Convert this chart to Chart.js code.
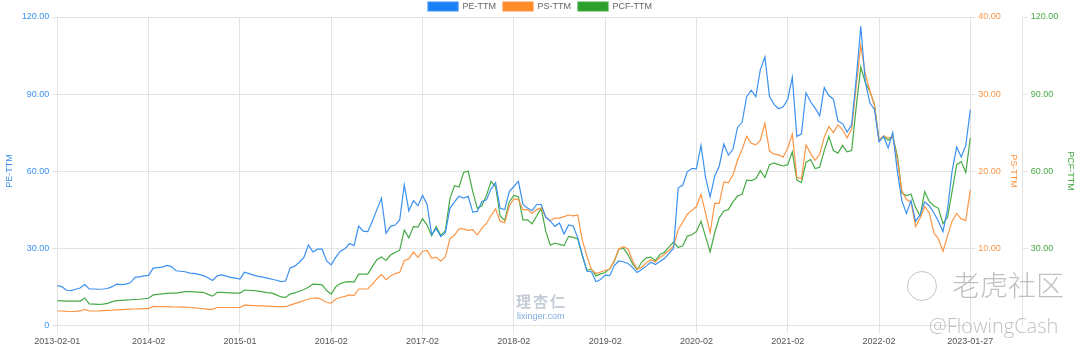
<!DOCTYPE html>
<html>
<head>
<meta charset="utf-8">
<script src="https://cdn.jsdelivr.net/npm/chart.js@4/dist/chart.umd.min.js"></script>
<style>
  html, body { margin: 0; padding: 0; background: #fff; }
  #wrap { position: relative; width: 1080px; height: 352px; overflow: hidden; }
  canvas { display: block; }
  .wm { position: absolute; pointer-events: none; white-space: nowrap; }
</style>
</head>
<body>
<div id="wrap">
  <canvas id="c" width="1080" height="352"></canvas>
  <div class="wm" style="left:516px;top:290px;font:bold 15px 'Noto Sans CJK SC';color:rgba(110,130,160,0.4);letter-spacing:2px;">理杏仁</div>
  <div class="wm" style="left:517px;top:311px;font:9px 'Liberation Sans';color:rgba(40,110,200,0.6);">lixinger.com</div>
  <div class="wm" style="left:907px;top:271px;width:28px;height:28px;border:1.5px solid rgba(150,150,150,0.55);border-radius:50%;"></div>
  <div class="wm" style="left:952px;top:264px;font:300 28px 'Noto Sans CJK SC';color:rgba(140,140,140,0.55);">老虎社区</div>
  <div class="wm" style="left:929px;top:312px;font:300 20px 'Open Sans';color:rgba(140,140,140,0.55);">@FlowingCash</div>
</div>
<script>
const tickLabels = ['2013-02-01','2014-02','2015-01','2016-02','2017-02','2018-02','2019-02','2020-02','2021-02','2022-02','2023-01-27'];
const pointsPerTick = 20;

const peTTM = [15.4,15,13.6,13.5,14,14.5,15.8,14.1,14.1,14,
14.1,14.3,15,16,15.8,16,16.5,18.6,18.8,19.2,
19.4,22.2,22.4,22.6,23.3,22.8,21.2,21,20.8,20.3,
20.2,19.8,19.3,18.5,17.4,19.2,19.6,19.1,18.6,18.3,
18,20.6,20.1,19.5,19,18.7,18.3,17.9,17.5,17,
17.2,22.3,23,24.5,26.4,31.3,28.5,29.6,29.6,25,
23.5,26.5,28.8,29.8,31.8,31,38.6,36.6,36.4,40.5,
45,49.5,35.8,38.5,39,41,54.6,44.5,48.5,46.5,
50.5,47,35.3,37.6,34.5,36,45.5,48,50.2,49.5,
50.2,44,44.3,48.2,48.8,53,55.5,45.5,45,52,
54,56,47,45.6,44.6,47,47,42,40.5,38.5,
39.8,35.5,39,38.6,34,27.5,21,20.8,16.9,17.8,
19.5,19.3,23.2,25,24.7,24,22.5,20.5,21.7,23,
24.5,23.6,24.8,26,28,30,53.5,54.5,59.8,61,
61,70,57.5,50,58,62,70.5,66.2,68.5,77,
79,89,91.5,89,99.5,104.5,89,86,84.3,85,
88,96.5,73.5,74.5,90.5,87,84.5,81.5,92.5,89.4,
88,79.5,78.5,75.2,78,96,116.4,94.5,86.5,84,
71.4,73.5,69,75,60,48.5,43.5,48.5,40.5,43,
48,46.5,43.8,40.5,36.5,45,60,69.4,65.5,70,
84];

const psTTM = [1.84,1.84,1.8,1.78,1.8,1.85,2.05,1.84,1.84,1.85,
1.88,1.92,1.95,2,2.02,2.05,2.08,2.1,2.12,2.14,
2.16,2.44,2.42,2.4,2.4,2.38,2.36,2.35,2.35,2.3,
2.25,2.2,2.15,2.05,2.05,2.3,2.3,2.3,2.3,2.3,
2.3,2.6,2.58,2.55,2.52,2.5,2.48,2.45,2.42,2.4,
2.4,2.6,2.8,3,3.2,3.4,3.5,3.55,3.3,2.95,
2.87,3.4,3.6,3.75,3.94,3.85,4.7,4.7,4.7,5.3,
6,6.6,5.9,6.4,6.7,6.86,8.4,8.6,9.5,8.8,
9.6,9.7,8.7,8.8,8.3,8.9,11.2,11.7,12.5,12.5,
12.3,12.4,11.7,12.6,13.2,14.2,15.1,13.5,13.3,15.5,
16.4,16.3,15,15,14.5,15,15.2,14,13.6,13.9,
13.9,14.1,14.3,14.2,14.3,11,9,7.2,6.7,6.9,
7.1,7.3,8.4,9.9,10.2,9.9,8.4,7.3,7.5,8.1,
8.5,8.2,8.8,9.2,9.7,10.3,12.4,13.4,14.4,14.9,
15.4,17,14.5,12,15.8,15.8,18.6,18.5,19.5,21.4,
22.8,24.5,23.6,23.4,24,26.2,22.6,22.2,22.1,21.8,
23,24.8,19.2,19,23.4,22.3,21.4,22.2,24.4,25.8,
25,26,25.4,24.3,25.5,31,36.3,32.6,30.4,28.5,
24,24.6,24.3,24.5,21.5,17.4,16.3,16,12.8,13.9,
15.4,14.6,12,11.2,9.6,11.6,13.5,14.5,13.8,13.6,
17.6];

const pcfTTM = [9.6,9.5,9.4,9.4,9.4,9.4,10.6,8.3,8.2,8.1,
8.2,8.5,9.2,9.6,9.7,9.8,9.9,10,10.1,10.3,
10.5,11.8,12,12.2,12.4,12.5,12.5,12.8,13.1,13.1,
13,12.9,12.8,12,11.3,12.8,12.8,12.7,12.6,12.5,
12.5,13.7,13.6,13.5,13.3,13,12.7,12.5,11.8,11,
10.8,12.1,12.6,13.2,13.9,14.8,16,15.9,15.7,13.5,
12.1,15,16.2,16.8,17,16.8,19.9,19.9,19.9,22.8,
25.5,26.6,25.2,27.3,28.3,29.2,37,34,38.4,38.2,
41.5,39,34.8,38.4,35,36.8,49.3,54.3,53.8,59.5,
60,52,45.5,46.5,50.5,56,54,42.5,40.8,48,
50.5,50,41,41,39.5,42.5,45.5,36.5,31.2,32,
31.5,31,34.6,34.2,33.6,27,21.4,21.8,19.2,20,
20.5,22,24.8,29.6,30,27.5,24,21.6,24.5,26.2,
26.5,25.1,27.5,28.4,30.5,32.4,30.2,30.9,34.7,35.2,
36.5,40.5,34.5,28.5,36,41.8,44.5,45,48,50.3,
51,56.5,56.3,57,60.2,57.5,62.5,63.2,62.5,62,
62.5,67.5,56.5,55.5,63.5,64.5,61,61.5,68,73.5,
68,67,70,67.5,68,85,100.5,94.5,91,86,
72,73.5,72,73.5,66,51.5,50.5,51,45.8,42.5,
52,48.2,46.5,45.5,39.5,42,52,62.5,63.7,59.5,
73];

const categories = peTTM.map((_, i) => (i % pointsPerTick === 0 ? tickLabels[i / pointsPerTick] : ''));

const BLUE = 'rgb(26,128,246)', BLUE_L = 'rgb(60,145,240)';
const ORANGE = 'rgb(255,140,40)', ORANGE_L = 'rgb(252,150,70)';
const GREEN = 'rgb(44,160,44)', GREEN_L = 'rgb(70,170,70)';
const GRID = '#e3e3e3';

Chart.defaults.font.family = "'Liberation Sans', Arial, sans-serif";
Chart.defaults.font.size = 9;
Chart.defaults.color = '#555';

const legendShift = {
  id: 'legendShift',
  afterLayout(chart) {
    const l = chart.legend;
    if (l) { l.top -= 5; l.bottom -= 5; }
  }
};

new Chart(document.getElementById('c'), {
  type: 'line',
  data: {
    labels: categories,
    datasets: [
      { label: 'PE-TTM', data: peTTM, yAxisID: 'y', borderColor: BLUE_L, backgroundColor: BLUE, borderWidth: 1.2, pointRadius: 0, tension: 0 },
      { label: 'PS-TTM', data: psTTM, yAxisID: 'y1', borderColor: ORANGE_L, backgroundColor: ORANGE, borderWidth: 1.2, pointRadius: 0, tension: 0 },
      { label: 'PCF-TTM', data: pcfTTM, yAxisID: 'y2', borderColor: GREEN_L, backgroundColor: GREEN, borderWidth: 1.2, pointRadius: 0, tension: 0 }
    ]
  },
  options: {
    responsive: false,
    animation: false,
    layout: { padding: { left: 0, right: 0, top: 0, bottom: 2 } },
    plugins: {
      legend: {
        position: 'top',
        maxHeight: 17,
        labels: { boxWidth: 30, boxHeight: 9, padding: 7, color: '#666', font: { size: 9 } }
      },
      tooltip: { enabled: false }
    },
    scales: {
      x: {
        type: 'category',
        grid: { color: GRID, tickLength: 8 },
        border: { color: GRID },
        ticks: {
          autoSkip: false, maxRotation: 0, minRotation: 0, padding: 3, color: '#555',
          callback: (v, i) => (categories[i] ? categories[i] : null)
        }
      },
      y: {
        position: 'left', min: 0, max: 120,
        grid: { color: GRID, tickLength: 5 },
        border: { color: GRID },
        ticks: { stepSize: 30, padding: 3, color: BLUE_L, callback: v => (v === 0 ? '0' : v.toFixed(2)) },
        title: { display: true, text: 'PE-TTM', color: BLUE_L, font: { size: 9 }, padding: 4 }
      },
      y1: {
        position: 'right', weight: 0, min: 0, max: 40,
        grid: { drawOnChartArea: false, color: GRID, tickLength: 5 },
        border: { color: GRID },
        ticks: { stepSize: 10, padding: 3, color: ORANGE_L, callback: v => (v === 0 ? null : v.toFixed(2)) },
        title: { display: true, text: 'PS-TTM', color: ORANGE_L, font: { size: 9 }, padding: 4 }
      },
      y2: {
        position: 'right', weight: 1, min: 0, max: 120,
        grid: { drawOnChartArea: false, color: GRID, tickLength: 5 },
        border: { color: GRID },
        ticks: { stepSize: 30, padding: 3, color: GREEN_L, callback: v => (v === 0 ? null : v.toFixed(2)) },
        title: { display: true, text: 'PCF-TTM', color: GREEN_L, font: { size: 9 }, padding: 4 }
      }
    }
  },
  plugins: [legendShift]
});
</script>
</body>
</html>
